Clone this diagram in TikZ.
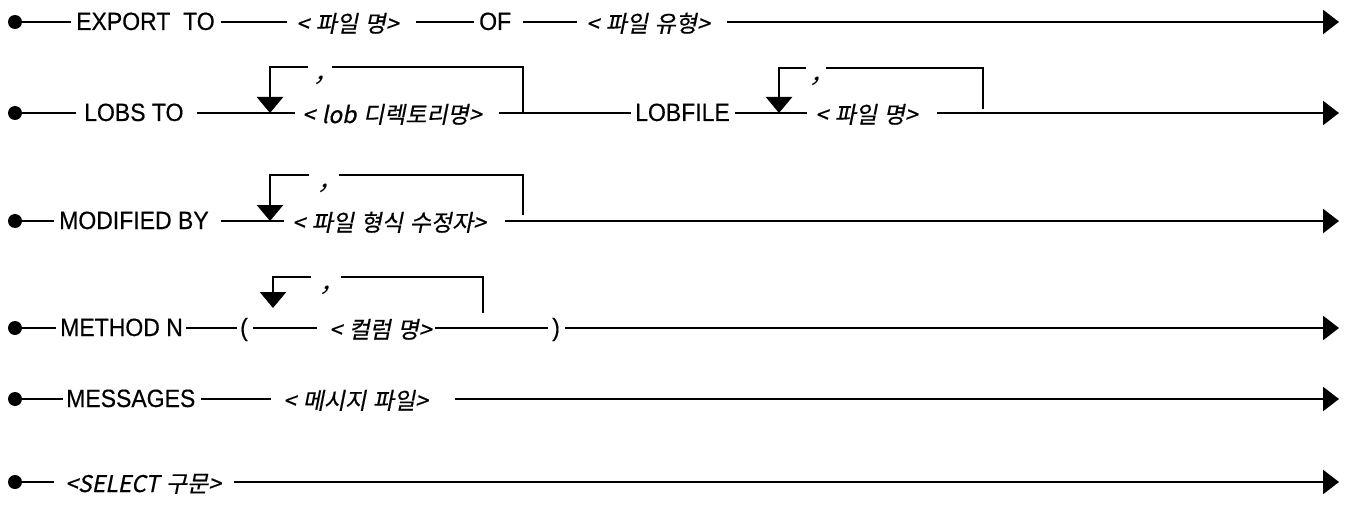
\documentclass[tikz,border=0pt]{standalone}
\usepackage{fontspec}
\setmainfont{Liberation Sans}[FakeStretch=0.92,FakeBold=0.4]
\newfontfamily\kr{Noto Sans CJK KR}[FakeSlant=0.2,WordSpace=1.3,FakeBold=0.5]
\newfontfamily\krc{Noto Sans CJK KR}[FakeSlant=0.35]
\usetikzlibrary{arrows.meta,calc}
\begin{document}
\begin{tikzpicture}[x=1pt,y=-1pt,
  rail/.style={line width=2.5pt},
  kw/.style={inner sep=0pt, anchor=west, font=\fontsize{25}{28}\selectfont, text height=16pt, text depth=0pt},
  ph/.style={inner sep=0pt, anchor=west, font=\kr\fontsize{23}{26}\selectfont, text height=20pt, text depth=0pt},
  startdot/.style={circle, fill=black, inner sep=0pt, minimum size=14pt},
  endtip/.style={-{Triangle[length=16pt,width=24pt]}},
  looptip/.style={-{Triangle[length=16pt,width=26pt]}},
  sepnode/.style={inner sep=0pt, anchor=north, font=\krc\fontsize{28}{30}\selectfont, text height=12pt, text depth=4pt, minimum width=#1},
]
\useasboundingbox (0,0) rectangle (1346,508);

% ---------- row 1 ----------
\node[startdot] (d1) at (15,22) {};
\node[kw] (t11) at (76,22) {EXPORT\ \ TO};
\node[ph] (t12) at (296,22) {< 파일 명>};
\node[kw] (t13) at (479,22) {OF};
\node[ph] (t14) at (586,22) {< 파일 유형>};
\coordinate (e1) at (1339,22);
\draw[rail] (d1) -- ([xshift=-5pt]t11.west);
\draw[rail] ([xshift=6pt]t11.east) -- ([xshift=-9pt]t12.west);
\draw[rail] ([xshift=17pt]t12.east) -- ([xshift=-5pt]t13.west);
\draw[rail] ([xshift=12pt]t13.east) -- ([xshift=-9pt]t14.west);
\draw[rail,endtip] ([xshift=17pt]t14.east) -- (e1);

% ---------- row 2 ----------
\node[startdot] (d2) at (15,113) {};
\node[kw] (t21) at (84,113) {LOBS TO};
\node[ph] (t22) at (302,113) {< lob 디렉토리명>};
\node[kw] (t23) at (635,113) {LOBFILE};
\node[ph] (t24) at (815,113) {< 파일 명>};
\coordinate (e2) at (1339,113);
\draw[rail] (d2) -- ([xshift=-8pt]t21.west);
\draw[rail] ([xshift=13pt]t21.east) -- ([xshift=-7pt]t22.west);
\draw[rail] ([xshift=17pt]t22.east) -- ([xshift=-4pt]t23.west);
\draw[rail] ([xshift=5pt]t23.east) -- ([xshift=-8pt]t24.west);
\draw[rail,endtip] ([xshift=19pt]t24.east) -- (e2);
% loop 1
\coordinate (a21) at (270,113);
\coordinate (b21) at (523,113);
\node[sepnode=24pt] (g21) at (320,67) {,};
\draw[rail] (b21) |- (g21.north east);
\draw[rail,looptip] (g21.north west) -| (a21);
% loop 2
\coordinate (a22) at (779,113);
\coordinate (b22) at (983,109);
\node[sepnode=20pt] (g22) at (816,68) {,};
\draw[rail] (b22) |- (g22.north east);
\draw[rail,looptip] (g22.north west) -| (a22);

% ---------- row 3 ----------
\node[startdot] (d3) at (15,221) {};
\node[kw] (t31) at (59,221) {MODIFIED BY};
\node[ph] (t32) at (292,221) {< 파일 형식 수정자>};
\coordinate (e3) at (1339,221);
\draw[rail] (d3) -- ([xshift=-5pt]t31.west);
\draw[rail] ([xshift=12pt]t31.east) -- ([xshift=-8pt]t32.west);
\draw[rail,endtip] ([xshift=19pt]t32.east) -- (e3);
\coordinate (a3) at (270,221);
\coordinate (b3) at (523,215);
\node[sepnode=30pt] (g3) at (324,175) {,};
\draw[rail] (b3) |- (g3.north east);
\draw[rail,looptip] (g3.north west) -| (a3);

% ---------- row 4 ----------
\node[startdot] (d4) at (15,328) {};
\node[kw] (t41) at (60,328) {METHOD N};
\node[kw] (t42) at (240,328) {(};
\node[ph] (t43) at (329,328) {< 컬럼 명>};
\node[kw] (t44) at (552,328) {)};
\coordinate (e4) at (1339,328);
\draw[rail] (d4) -- ([xshift=-4pt]t41.west);
\draw[rail] ([xshift=3pt]t41.east) -- ([xshift=-3pt]t42.west);
\draw[rail] ([xshift=5pt]t42.east) -- ([xshift=-12pt]t43.west);
\draw[rail] ([xshift=3pt]t43.east) -- ([xshift=-4pt]t44.west);
\draw[rail,endtip] ([xshift=5pt]t44.east) -- (e4);
\coordinate (a4) at (273,308);
\coordinate (b4) at (483,313);
\node[sepnode=30pt] (g4) at (326,277) {,};
\draw[rail] (b4) |- (g4.north east);
\draw[rail,looptip] (g4.north west) -| (a4);

% ---------- row 5 ----------
\node[startdot] (d5) at (15,399) {};
\node[kw] (t51) at (66,399) {MESSAGES};
\node[ph] (t52) at (283,399) {< 메시지 파일>};
\coordinate (e5) at (1339,399);
\draw[rail] (d5) -- ([xshift=-3pt]t51.west);
\draw[rail] ([xshift=6pt]t51.east) -- ([xshift=-12pt]t52.west);
\draw[rail,endtip] ([xshift=27pt]t52.east) -- (e5);

% ---------- row 6 ----------
\node[startdot] (d6) at (15,482) {};
\node[ph] (t61) at (65,482) {<SELECT 구문>};
\coordinate (e6) at (1339,482);
\draw[rail] (d6) -- ([xshift=-11pt]t61.west);
\draw[rail,endtip] ([xshift=13pt]t61.east) -- (e6);
\end{tikzpicture}
\end{document}
